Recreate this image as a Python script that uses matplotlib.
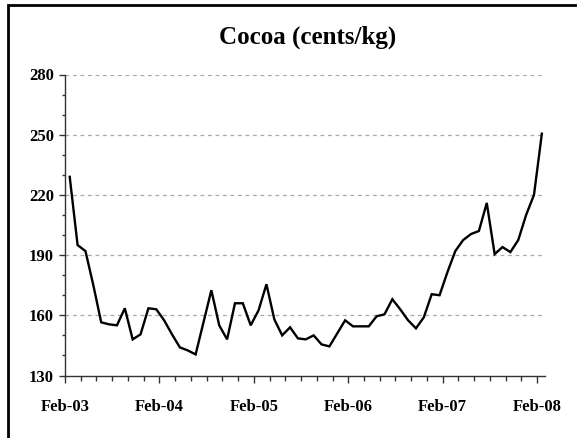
import numpy as np
import matplotlib
matplotlib.use("Agg")
import matplotlib.pyplot as plt
import matplotlib.transforms as mtransforms
from matplotlib.patches import Rectangle

# monthly cocoa price, Feb-03 .. Feb-08 (cents/kg)
prices = [229, 195, 192, 175, 156.5, 155.5, 155, 163.5, 148, 150.5,
          163.5, 163, 157.5, 150.5, 144, 142.5, 140.5, 156.5, 172.5, 155,
          148, 166, 166, 155, 162.5, 175.5, 158, 150, 154, 148.5,
          148, 150, 145.5, 144.5, 151, 157.5, 154.5, 154.5, 154.5, 159.5,
          160.5, 168, 163, 157.5, 153.5, 159, 170.5, 170, 181.5, 192,
          197.5, 200.5, 202, 216, 190.5, 194, 191.5, 197.5, 210, 220,
          250.5]
year_labels = ["Feb-03", "Feb-04", "Feb-05", "Feb-06", "Feb-07", "Feb-08"]
y_ticks = [130, 160, 190, 220, 250, 280]

months = np.arange(len(prices))

W, H, DPI = 577, 438, 100
fig = plt.figure(figsize=(W / DPI, H / DPI), dpi=DPI)
ax = fig.add_axes([65 / W, 1 - 375.5 / H, 480 / W, 301 / H])

serif = "Liberation Serif"

# points sit in the middle of their month slot (Excel "between tick marks")
ax.plot(months + 0.6, prices, color="black", lw=1.7, solid_joinstyle="miter")

ax.set_xlim(0, 61)
ax.set_ylim(130, 280)

ax.set_yticks(y_ticks)
ax.set_yticks(np.arange(130, 281, 10), minor=True)
ax.set_xticks(np.arange(0, 61, 12))
ax.set_xticklabels(year_labels)
ax.set_xticks(np.arange(0, 61, 2), minor=True)

for t in ax.get_yticklabels() + ax.get_xticklabels():
    t.set_fontfamily(serif)
    t.set_fontweight("bold")
    t.set_fontsize(12)

# shift month labels half a slot right, like the original
off = mtransforms.ScaledTranslation(5 / DPI, 0, fig.dpi_scale_trans)
for t in ax.get_xticklabels():
    t.set_transform(t.get_transform() + off)

ax.tick_params(axis="x", which="major", direction="out", length=5, width=1,
               pad=12, color="#333333")
ax.tick_params(axis="x", which="minor", direction="out", length=3.5,
               width=1, color="#333333")
ax.tick_params(axis="y", which="major", direction="out", length=4, width=1,
               pad=4, color="#333333")
ax.tick_params(axis="y", which="minor", direction="out", length=2.5,
               width=1, color="#333333")

for s in ("top", "right"):
    ax.spines[s].set_visible(False)
for s in ("left", "bottom"):
    ax.spines[s].set_color("#333333")
    ax.spines[s].set_linewidth(1)

for v in y_ticks[1:]:
    ax.axhline(v, color="#a8a8a8", lw=0.9, ls=(0, (3, 3)), zorder=0)

fig.text(308 / W, 1 - 37 / H, "Cocoa (cents/kg)", ha="center", va="center",
         fontfamily=serif, fontweight="bold", fontsize=18)

# outer frame, only left and top edges show in the picture
fig.patches.append(Rectangle((8 / W, -0.1), 1.2, 1.1 - 5 / H,
                             transform=fig.transFigure, fill=False,
                             lw=2, ec="black"))

fig.savefig("out.png", dpi=DPI)
